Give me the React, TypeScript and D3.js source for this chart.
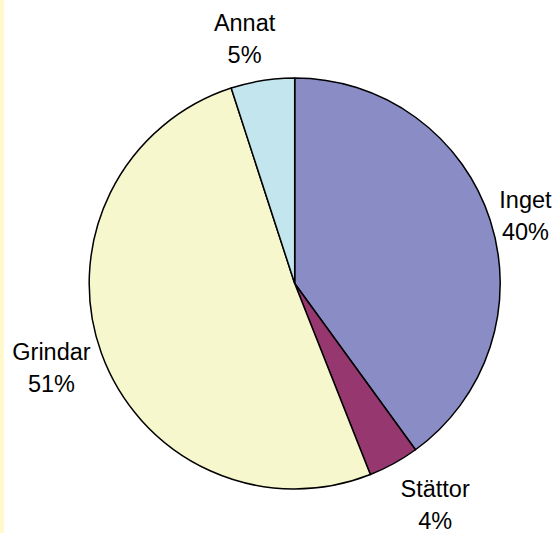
import React from "react";
import * as d3 from "d3";

const categories = ["Inget", "Stättor", "Grindar", "Annat"];
const values = [40, 4, 51, 5];
const percentLabels = ["40%", "4%", "51%", "5%"];
const colors = ["#8A8CC5", "#963770", "#F7F7CD", "#C3E6EE"];

const W = 555;
const H = 534;
const CX = 294.7;
const CY = 283.5;
const R = 205.5;
const LABEL_R = 250;
const LINE_GAP = 32;
const FONT = 23.5;
// small layout nudges (px) for label placement, by category
const nudges: Record<string, [number, number]> = {
  Inget: [-7, 9],
  "Stättor": [20, 2],
  Grindar: [-8, -1],
  Annat: [-11, 2],
};

export default function App() {
  const data = categories.map((c, i) => ({ c, v: values[i], p: percentLabels[i], col: colors[i] }));
  const pie = d3.pie<any>().value((d) => d.v).sort(null).startAngle(0).endAngle(2 * Math.PI);
  const arcs = pie(data);
  const arc = d3.arc<any>().innerRadius(0).outerRadius(R);
  return (
    <svg
      width={W}
      height={H}
      style={{ position: "fixed", left: 0, top: 0, background: "#ffffff" }}
      fontFamily="'Liberation Sans', Arial, sans-serif"
    >
      <rect x={0} y={0} width={W} height={H} fill="#ffffff" />
      <rect x={0} y={0} width={4} height={533} fill="#FFF9CC" />
      <g transform={`translate(${CX},${CY})`}>
        {arcs.map((a, i) => (
          <path key={i} d={arc(a) || ""} fill={a.data.col} stroke="#000" strokeWidth={1.5} strokeLinejoin="round" />
        ))}
      </g>
      {arcs.map((a, i) => {
        const mid = (a.startAngle + a.endAngle) / 2;
        const n = nudges[a.data.c] || [0, 0];
        const x = CX + Math.sin(mid) * LABEL_R + n[0];
        const cy = CY - Math.cos(mid) * LABEL_R + n[1];
        const b1 = cy - 7.5;
        return (
          <text key={i} textAnchor="middle" fontSize={FONT} fill="#000">
            <tspan x={x} y={b1}>{a.data.c}</tspan>
            <tspan x={x} y={b1 + LINE_GAP}>{a.data.p}</tspan>
          </text>
        );
      })}
    </svg>
  );
}
